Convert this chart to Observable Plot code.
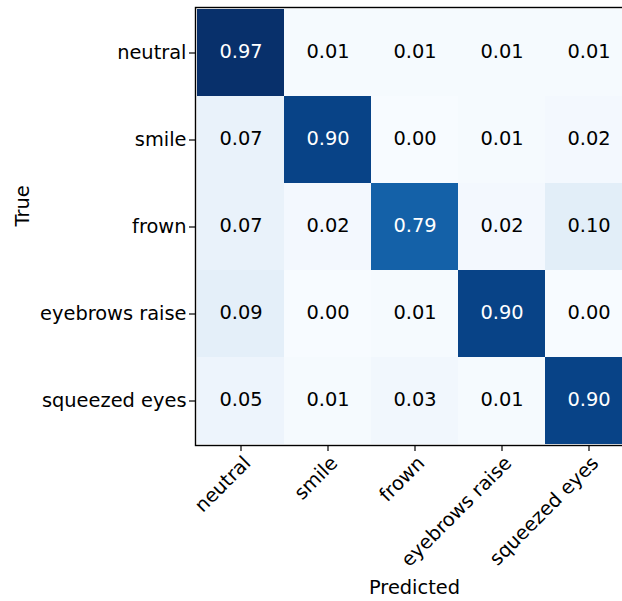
<!DOCTYPE html>
<html>
<head>
<meta charset="utf-8">
<script src="https://cdn.jsdelivr.net/npm/d3@7"></script>
<script src="https://cdn.jsdelivr.net/npm/@observablehq/plot@0.6"></script>
<style>
  html, body { margin: 0; padding: 0; background: #fff; overflow: hidden; }
  #chart { width: 622px; height: 601px; overflow: hidden; }
</style>
</head>
<body>
<div id="chart"></div>
<script>
// Expression classes (rows: true label, columns: predicted label)
const classes = ["neutral", "smile", "frown", "eyebrows raise", "squeezed eyes"];

// Row-normalized confusion matrix values
const neutralRow       = [0.97, 0.01, 0.01, 0.01, 0.01];
const smileRow         = [0.07, 0.90, 0.00, 0.01, 0.02];
const frownRow         = [0.07, 0.02, 0.79, 0.02, 0.10];
const eyebrowsRaiseRow = [0.09, 0.00, 0.01, 0.90, 0.00];
const squeezedEyesRow  = [0.05, 0.01, 0.03, 0.01, 0.90];
const rows = [neutralRow, smileRow, frownRow, eyebrowsRaiseRow, squeezedEyesRow];

// Sequential "Blues" palette, interpolated linearly between stops
const blues = ["#f7fbff", "#deebf7", "#c6dbef", "#9ecae1", "#6baed6",
               "#4292c6", "#2171b5", "#08519c", "#08306b"];

const cells = rows.flatMap((row, i) =>
  row.map((value, j) => ({ actual: classes[i], predicted: classes[j], value })));

const vmin = d3.min(cells, d => d.value);
const vmax = d3.max(cells, d => d.value);
const threshold = (vmin + vmax) / 2;
const colorDomain = blues.map((_, k) => vmin + (k * (vmax - vmin)) / (blues.length - 1));

const font = "DejaVu Sans";
const fs = 19.4;

const chart = Plot.plot({
  width: 622,
  height: 601,
  marginLeft: 195,
  marginTop: 7,
  marginRight: -11,
  marginBottom: 156,
  style: { fontFamily: font, fontSize: `${fs}px`, background: "#fff", color: "#000" },
  x: { domain: classes, padding: 0, label: null },
  y: { domain: classes, padding: 0, label: null },
  color: { type: "linear", domain: colorDomain, range: blues, interpolate: "rgb" },
  marks: [
    Plot.cell(cells, { x: "predicted", y: "actual", fill: "value", shapeRendering: "crispEdges" }),
    Plot.text(cells, {
      x: "predicted",
      y: "actual",
      text: d => d.value.toFixed(2),
      fill: d => (d.value > threshold ? "#fff" : "#000"),
      fontSize: fs,
      dy: -1
    }),
    Plot.frame({ stroke: "#000", strokeWidth: 1.4 }),
    Plot.axisY({ tickSize: 6, tickPadding: 3, fontSize: fs, label: null, stroke: "#000", strokeWidth: 1.2 }),
    Plot.axisX({ tickSize: 6, tickFormat: () => "", label: null, stroke: "#000", strokeWidth: 1.2 }),
    // Rotated predicted-class labels
    Plot.text(classes, {
      x: d => d,
      frameAnchor: "bottom",
      rotate: -45,
      textAnchor: "end",
      lineAnchor: "top",
      dx: 1,
      dy: 9,
      fontSize: fs
    }),
    Plot.text(["Predicted"], { frameAnchor: "bottom", lineAnchor: "middle", dy: 142, fontSize: fs }),
    Plot.text(["True"], { frameAnchor: "left", rotate: -90, lineAnchor: "middle", dx: -173, fontSize: fs })
  ]
});

document.getElementById("chart").appendChild(chart);
</script>
</body>
</html>
